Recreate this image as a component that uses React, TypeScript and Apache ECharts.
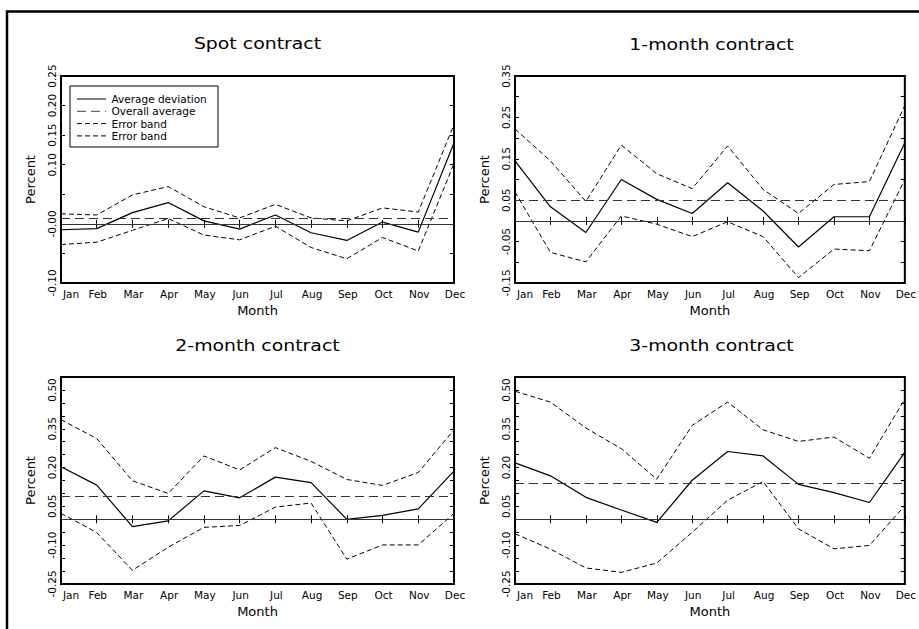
import React, { useEffect, useRef } from "react";
import * as echarts from "echarts";

// ---------- data ----------
const months = ["Jan", "Feb", "Mar", "Apr", "May", "Jun", "Jul", "Aug", "Sep", "Oct", "Nov", "Dec"];

const spotAvg = [-0.010, -0.008, 0.019, 0.036, 0.005, -0.009, 0.015, -0.015, -0.028, 0.003, -0.014, 0.137];
const spotUpper = [0.017, 0.015, 0.049, 0.063, 0.029, 0.010, 0.033, 0.010, 0.005, 0.027, 0.020, 0.168];
const spotLower = [-0.035, -0.031, -0.011, 0.009, -0.019, -0.027, -0.004, -0.040, -0.059, -0.023, -0.046, 0.102];
const spotOverall = 0.011;
const spotTicks = ["-0.10", "-0.00", "0.10", "0.15", "0.20", "0.25"];

const m1Avg = [0.145, 0.034, -0.028, 0.100, 0.052, 0.018, 0.092, 0.024, -0.063, 0.010, 0.010, 0.189];
const m1Upper = [0.222, 0.145, 0.047, 0.183, 0.114, 0.078, 0.181, 0.076, 0.018, 0.088, 0.095, 0.279];
const m1Lower = [0.070, -0.076, -0.099, 0.012, -0.008, -0.038, -0.002, -0.038, -0.137, -0.068, -0.072, 0.100];
const m1Overall = 0.05;
const m1Ticks = ["-0.15", "-0.05", "0.05", "0.15", "0.25", "0.35"];

const m2Avg = [0.203, 0.132, -0.028, -0.006, 0.110, 0.083, 0.163, 0.142, 0.000, 0.015, 0.040, 0.186];
const m2Upper = [0.385, 0.312, 0.149, 0.100, 0.245, 0.191, 0.277, 0.224, 0.154, 0.131, 0.181, 0.346];
const m2Lower = [0.023, -0.051, -0.197, -0.108, -0.031, -0.024, 0.047, 0.063, -0.154, -0.099, -0.099, 0.023];
const m2Overall = 0.090;
const m2Ticks = ["-0.25", "-0.10", "0.05", "0.20", "0.35", "0.50"];

const m3Avg = [0.218, 0.168, 0.085, 0.036, -0.012, 0.151, 0.262, 0.245, 0.135, 0.103, 0.065, 0.259];
const m3Upper = [0.495, 0.453, 0.353, 0.273, 0.155, 0.363, 0.453, 0.346, 0.301, 0.318, 0.236, 0.465];
const m3Lower = [-0.056, -0.115, -0.188, -0.205, -0.169, -0.050, 0.074, 0.146, -0.037, -0.114, -0.101, 0.053];
const m3Overall = 0.144;
const m3Ticks = ["-0.25", "-0.10", "0.05", "0.20", "0.35", "0.50"];

const legendNames = ["Average deviation", "Overall average", "Error band", "Error band"];

// ---------- layout ----------
const FONT = "DejaVu Sans";
const panels = [
  { title: "Spot contract", avg: spotAvg, upper: spotUpper, lower: spotLower, overall: spotOverall, ticks: spotTicks, min: -0.1, max: 0.25, left: 61, top: 76, titleY: 44 },
  { title: "1-month contract", avg: m1Avg, upper: m1Upper, lower: m1Lower, overall: m1Overall, ticks: m1Ticks, min: -0.15, max: 0.35, left: 515, top: 76, titleY: 45 },
  { title: "2-month contract", avg: m2Avg, upper: m2Upper, lower: m2Lower, overall: m2Overall, ticks: m2Ticks, min: -0.25, max: 0.55, left: 61, top: 377, titleY: 346 },
  { title: "3-month contract", avg: m3Avg, upper: m3Upper, lower: m3Lower, overall: m3Overall, ticks: m3Ticks, min: -0.25, max: 0.55, left: 515, top: 377, titleY: 346 },
];
const GW = 393;
const GH = 207;

function buildOption() {
  const grid: any[] = [];
  const xAxis: any[] = [];
  const yAxis: any[] = [];
  const series: any[] = [];
  const graphic: any[] = [];

  const tickStyle = { show: true, inside: true, length: 4, lineStyle: { color: "#000", width: 1 } };

  panels.forEach((p, i) => {
    grid.push({ left: p.left, top: p.top, width: GW, height: GH, show: true, borderColor: "#000", borderWidth: 2, backgroundColor: "transparent" });

    xAxis.push({
      type: "category", gridIndex: i, data: months, boundaryGap: false, position: "bottom",
      axisLine: { show: false }, axisTick: { ...tickStyle, interval: 0 },
      axisLabel: { interval: 0, margin: 5, fontSize: 10.5, color: "#000", fontFamily: FONT, alignMinLabel: "left", padding: [0, 0, 0, 2] },
      splitLine: { show: false },
      name: "Month", nameLocation: "middle", nameGap: 21,
      nameTextStyle: { fontSize: 13, color: "#000", fontFamily: FONT },
    });
    xAxis.push({
      type: "category", gridIndex: i, data: months, boundaryGap: false, position: "top",
      axisLine: { show: false }, axisTick: { ...tickStyle, interval: 0 },
      axisLabel: { show: false }, splitLine: { show: false },
    });

    const tickVals = p.ticks.map((t) => parseFloat(t));
    yAxis.push({
      type: "value", gridIndex: i, min: p.min, max: p.max, interval: 0.05, position: "left",
      axisLine: { show: false }, axisTick: tickStyle, splitLine: { show: false },
      axisLabel: {
        rotate: 90, margin: 4, fontSize: 10.5, color: "#000", fontFamily: FONT,
        formatter: (v: number) => {
          const r = Math.round(v * 100) / 100;
          const k = tickVals.findIndex((t) => Math.abs(t - r) < 1e-6);
          return k >= 0 ? p.ticks[k] : "";
        },
      },
      name: "Percent", nameLocation: "middle", nameGap: 24,
      nameTextStyle: { fontSize: 13, color: "#000", fontFamily: FONT },
    });
    yAxis.push({
      type: "value", gridIndex: i, min: p.min, max: p.max, interval: 0.05, position: "right",
      axisLine: { show: false }, axisTick: tickStyle, axisLabel: { show: false }, splitLine: { show: false },
    });

    series.push({
      type: "line", name: "Average deviation", xAxisIndex: 2 * i, yAxisIndex: 2 * i, data: p.avg,
      symbol: "none", silent: true, lineStyle: { color: "#000", width: 1.2, type: "solid" },
      markLine: {
        symbol: "none", silent: true, animation: false, label: { show: false },
        data: [
          { yAxis: 0, lineStyle: { type: "solid", color: "#333", width: 1 } },
          { yAxis: p.overall, lineStyle: { type: [9, 5], color: "#333", width: 1.2 } },
        ],
      },
    });
    series.push({
      type: "line", name: "Error band", xAxisIndex: 2 * i, yAxisIndex: 2 * i, data: p.upper,
      symbol: "none", silent: true, lineStyle: { color: "#000", width: 1, type: [5, 3] },
    });
    series.push({
      type: "line", name: "Error band", xAxisIndex: 2 * i, yAxisIndex: 2 * i, data: p.lower,
      symbol: "none", silent: true, lineStyle: { color: "#000", width: 1, type: [5, 3] },
    });

    graphic.push({
      type: "text", x: p.left + GW / 2, y: p.titleY, scaleX: 1.18, silent: true,
      style: { text: p.title, fontSize: 16, fontFamily: FONT, fill: "#000", align: "center", verticalAlign: "middle" },
    });
  });

  // outer frame (top and left)
  graphic.push({
    type: "polyline", silent: true,
    shape: { points: [[7, 629], [7, 11.5], [919, 11.5]] },
    style: { stroke: "#000", lineWidth: 2.5, fill: null },
  });

  // legend in spot panel
  const lgX = 70, lgY = 86, lgW = 148, lgH = 61;
  graphic.push({ type: "rect", silent: true, shape: { x: lgX, y: lgY, width: lgW, height: lgH }, style: { fill: "#fff", stroke: "#000", lineWidth: 1 } });
  const dashes: any[] = [null, [9, 5], [5, 3], [5, 3]];
  const colors = ["#000", "#444", "#000", "#000"];
  legendNames.forEach((n, k) => {
    const y = 99 + k * 12.3;
    graphic.push({ type: "line", silent: true, shape: { x1: 77, y1: y, x2: 106, y2: y }, style: { stroke: colors[k], lineWidth: 1, lineDash: dashes[k] } });
    graphic.push({ type: "text", silent: true, x: 111.5, y, style: { text: n, fontSize: 10.5, fontFamily: FONT, fill: "#000", align: "left", verticalAlign: "middle" } });
  });

  return { animation: false, backgroundColor: "#fff", textStyle: { fontFamily: FONT }, grid, xAxis, yAxis, series, graphic };
}

export default function App() {
  const ref = useRef<HTMLDivElement>(null);
  useEffect(() => {
    if (!ref.current) return;
    const chart = echarts.init(ref.current, null, { renderer: "svg" });
    chart.setOption(buildOption() as any);
    return () => chart.dispose();
  }, []);
  return <div ref={ref} style={{ position: "absolute", left: 0, top: 0, width: 919, height: 629 }} />;
}
